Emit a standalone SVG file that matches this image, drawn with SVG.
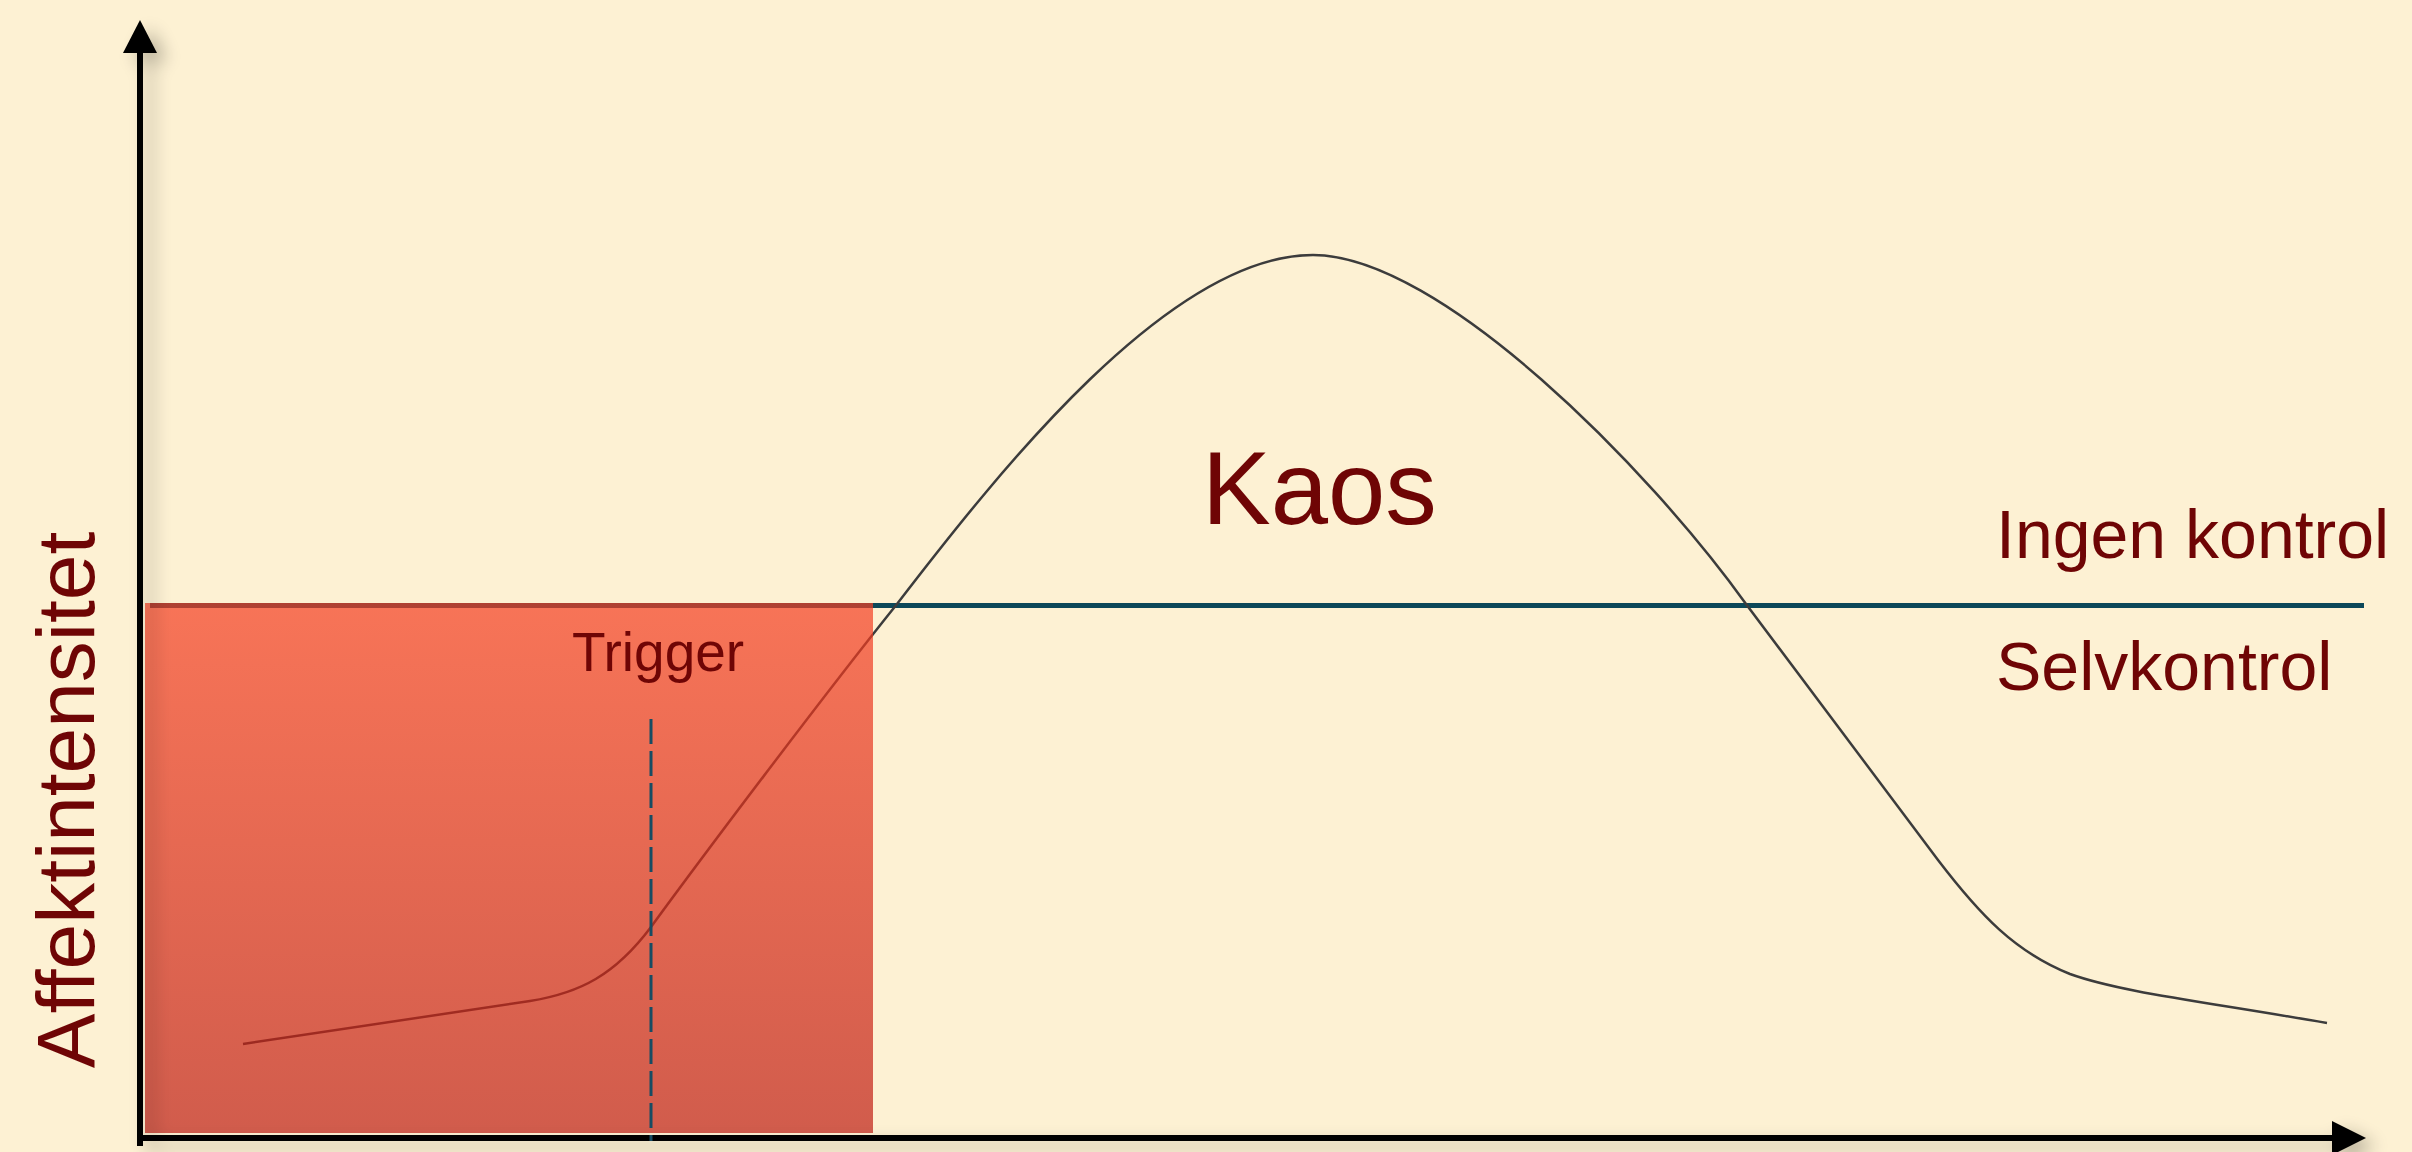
<svg xmlns="http://www.w3.org/2000/svg" width="2412" height="1152" viewBox="0 0 2412 1152">
  <defs>
    <linearGradient id="redGrad" x1="0" y1="0" x2="0" y2="1">
      <stop offset="0" stop-color="rgb(245,62,34)"/>
      <stop offset="1" stop-color="rgb(190,28,18)"/>
    </linearGradient>
    <filter id="shadow" x="-5%" y="-5%" width="110%" height="110%">
      <feGaussianBlur in="SourceAlpha" stdDeviation="9"/>
      <feOffset dx="10" dy="8" result="b"/>
      <feComponentTransfer><feFuncA type="linear" slope="0.28"/></feComponentTransfer>
      <feMerge><feMergeNode/><feMergeNode in="SourceGraphic"/></feMerge>
    </filter>
    <style>
      .lbl { font-family: "Liberation Sans", Arial, sans-serif; fill: #6f0505; }
      .axis { stroke: #000; stroke-width: 6; fill: none; }
      .curve { stroke: #3c3c3c; stroke-width: 2.5; fill: none; stroke-linejoin: round; }
    </style>
  </defs>
  <rect width="2412" height="1152" fill="#fdf1d3"/>

  <g id="threshold-line">
    <line x1="150" y1="605.5" x2="2364" y2="605.5" stroke="#0c4859" stroke-width="5"/>
  </g>

  <g id="connectors">
    <path class="curve" d="M243,1044 L530,1001 C580,993 615,975 651,927 C700,860 820,700 897,604 C1000,470 1170,255 1313,255 C1440,255 1650,470 1746,604 L1938,860 C1980,915 2015,952 2070,974 C2120,992 2200,1001 2327,1023"/>
  </g>

  <g id="selvkontrol-zone">
    <rect x="145" y="603" width="728" height="530" fill="url(#redGrad)" opacity="0.7"/>
  </g>

  <g id="axes" filter="url(#shadow)">
    <line class="axis" x1="140" y1="50" x2="140" y2="1146"/>
    <polygon points="140,20 123,53 157,53" fill="#000"/>
    <line class="axis" x1="137" y1="1138" x2="2334" y2="1138"/>
    <polygon points="2366,1138 2332,1121 2332,1155" fill="#000"/>
  </g>

  <g id="trigger">
    <line x1="651" y1="719" x2="651" y2="1141" stroke="#174c63" stroke-width="3" stroke-dasharray="25 7"/>
    <text class="lbl" x="572" y="671" font-size="55">Trigger</text>
  </g>

  <g id="kaos">
    <text class="lbl" x="1202" y="524" font-size="103">Kaos</text>
  </g>
  <g id="ingen-kontrol">
    <text class="lbl" x="1996" y="558" font-size="68">Ingen kontrol</text>
  </g>
  <g id="selvkontrol">
    <text class="lbl" x="1996" y="690" font-size="68">Selvkontrol</text>
  </g>
  <g id="y-label">
    <text class="lbl" transform="translate(94,800) rotate(-90)" text-anchor="middle" font-size="82">Affektintensitet</text>
  </g>
</svg>
